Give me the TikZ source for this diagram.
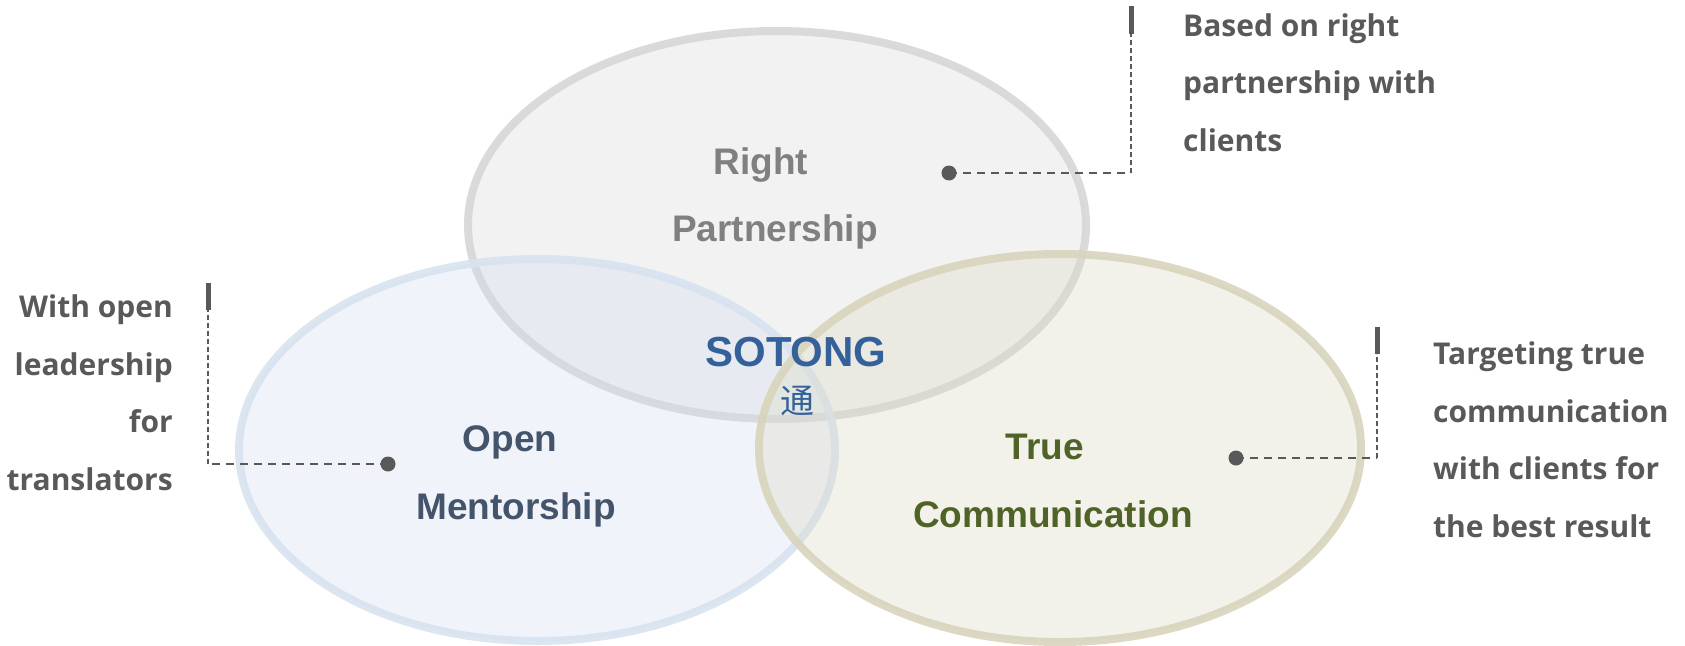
\documentclass[tikz,border=0pt]{standalone}
\usepackage{fontspec}
\setmainfont{Liberation Sans}
\newfontfamily\lblfont{Open Sans}
\newfontfamily\cjkfont{Noto Sans CJK SC}
\definecolor{topfill}{HTML}{D9D9D9}
\definecolor{topline}{HTML}{D6D6D6}
\definecolor{leftfill}{HTML}{D3E0F0}
\definecolor{leftline}{HTML}{D8E3F0}
\definecolor{rightfill}{HTML}{DDD9C4}
\definecolor{rightline}{HTML}{D8D4BC}
\definecolor{grtxt}{HTML}{808080}
\definecolor{bltxt}{HTML}{44546A}
\definecolor{gntxt}{HTML}{4F6228}
\definecolor{sotong}{HTML}{35619A}
\definecolor{lbl}{HTML}{595959}
\definecolor{conn}{HTML}{595959}
\begin{document}
\begin{tikzpicture}[x=1pt,y=-1pt,
  ring/.style={line width=8pt, fill opacity=0.35, draw opacity=0.9},
  big/.style={font=\fontsize{37}{40}\selectfont\bfseries, inner sep=0pt},
  side/.style={font=\lblfont\fontsize{30}{34}\selectfont\bfseries, text=lbl, inner sep=0pt},
  dotm/.style={circle, fill=conn, minimum size=15pt, inner sep=0pt},
  hdash/.style={draw=conn, line width=2pt, dash pattern=on 8pt off 6pt},
  vdash/.style={draw=conn, line width=1.2pt, dash pattern=on 5pt off 3pt},
  barm/.style={draw=conn, line width=5pt}
]
\useasboundingbox (0,0) rectangle (1685,645);
% ellipses
\path[ring, fill=topfill, draw=topline] (777,225) ellipse [x radius=309, y radius=194];
\path[ring, fill=leftfill, draw=leftline] (537,450) ellipse [x radius=298, y radius=191];
\path[ring, fill=rightfill, draw=rightline] (1060,448) ellipse [x radius=301, y radius=194];
% ellipse texts
\node[big, text=grtxt, anchor=base] (r1) at (761,174) {Right};
\node[big, text=grtxt, anchor=base] (r2) at (775,241) {Partnership};
\node[big, text=bltxt, anchor=base] (o1) at (510,451) {Open};
\node[big, text=bltxt, anchor=base] (o2) at (516,519) {Mentorship};
\node[big, text=gntxt, anchor=base] (t1) at (1045,459) {True};
\node[big, text=gntxt, anchor=base] (t2) at (1053,527) {Communication};
\node[font=\fontsize{42}{44}\selectfont\bfseries, text=sotong, inner sep=0pt, anchor=base] (so) at (796,366) {SOTONG};
\node[font=\cjkfont\fontsize{34}{36}\selectfont, text=sotong, inner sep=0pt] (tong) at (797,401) {通};
% connectors: top
\node[dotm] (d1) at (949,173) {};
\coordinate (c1) at (1131,173);
\coordinate (b1t) at (1131,6);
\coordinate (b1b) at (1131,34);
\draw[hdash] (d1.center) -- (c1);
\draw[vdash] (c1) -- (b1b);
\draw[barm] (b1t) -- (b1b);
% left
\node[dotm] (d2) at (388,464) {};
\coordinate (c2) at (208,464);
\coordinate (b2t) at (208,283);
\coordinate (b2b) at (208,310);
\draw[hdash] (d2.center) -- (c2);
\draw[vdash] (c2) -- (b2b);
\draw[barm] (b2t) -- (b2b);
% right
\node[dotm] (d3) at (1236,458) {};
\coordinate (c3) at (1377,458);
\coordinate (b3t) at (1377,327);
\coordinate (b3b) at (1377,354);
\draw[hdash] (d3.center) -- (c3);
\draw[vdash] (c3) -- (b3b);
\draw[barm] (b3t) -- (b3b);
% labels top right
\node[side, anchor=base west] (a1) at (1183,36) {Based on right};
\node[side, anchor=base west] (a2) at (1183,93.5) {partnership with};
\node[side, anchor=base west] (a3) at (1183,151) {clients};
% labels left
\node[side, anchor=base east] (l1) at (173,317) {With open};
\node[side, anchor=base east] (l2) at (173,375) {leadership};
\node[side, anchor=base east] (l3) at (173,432) {for};
\node[side, anchor=base east] (l4) at (173,490) {translators};
% labels right bottom
\node[side, anchor=base west] (m1) at (1433,364) {Targeting true};
\node[side, anchor=base west] (m2) at (1433,422) {communication};
\node[side, anchor=base west] (m3) at (1433,479) {with clients for};
\node[side, anchor=base west] (m4) at (1433,537) {the best result};
\end{tikzpicture}
\end{document}
